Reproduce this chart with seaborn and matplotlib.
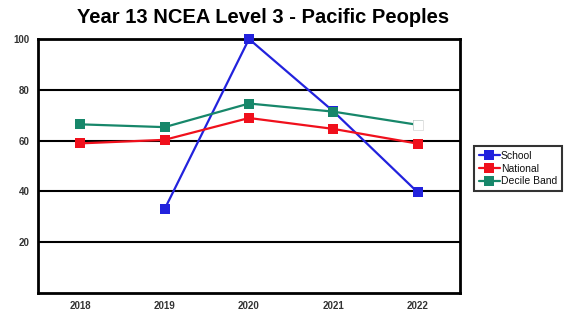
import numpy as np
import pandas as pd
import matplotlib
matplotlib.use("Agg")
import matplotlib.pyplot as plt
import seaborn as sns

years = ["2018", "2019", "2020", "2021", "2022"]
school = [np.nan, 33.0, 100.0, 71.5, 39.6]
national = [58.9, 60.3, 68.9, 64.6, 58.8]
decile_band = [66.4, 65.3, 74.6, 71.4, 66.2]

df = pd.DataFrame({"Year": years * 3,
                   "Value": school + national + decile_band,
                   "Group": ["School"] * 5 + ["National"] * 5 + ["Decile Band"] * 5})
df["x"] = df["Year"].map({y: i for i, y in enumerate(years)})

sns.set_style("white")
plt.rcParams['font.family'] = ['Liberation Sans', 'DejaVu Sans']

colors = {"School": "#2222dd", "National": "#f0101c", "Decile Band": "#17876a"}

fig = plt.figure(figsize=(5.79, 3.14), dpi=100)
ax = fig.add_axes([0.0656, 0.0669, 0.7289, 0.8089])

for g in ["School", "National", "Decile Band"]:
    sub = df[df["Group"] == g].dropna()
    sns.lineplot(data=sub, x="x", y="Value", ax=ax, color=colors[g], marker="s",
                 markersize=7, markeredgewidth=0, linewidth=1.6, label=g,
                 clip_on=False, zorder=4)

# hollow last decile marker
ax.plot([4], [decile_band[4]], marker="s", markersize=7, markerfacecolor="white",
        markeredgecolor="#dddddd", markeredgewidth=0.6, linestyle="none", zorder=5)

ax.set_xlim(-0.5, 4.5)
ax.set_ylim(0, 100)
ax.set_xticks(range(5))
ax.set_xticklabels(years)
ax.set_yticks([20, 40, 60, 80, 100])
ax.set_xlabel("")
ax.set_ylabel("")
ax.tick_params(axis="both", length=0, labelsize=7, labelcolor="#333333")
ax.tick_params(axis="x", pad=6)
ax.tick_params(axis="y", pad=6)
for t in ax.get_xticklabels() + ax.get_yticklabels():
    t.set_fontweight("bold")
ax.grid(axis="y", color="black", linewidth=1.5)
ax.set_axisbelow(True)
for s in ax.spines.values():
    s.set_visible(True)
    s.set_color("black")
    s.set_linewidth(2)
    s.set_zorder(3)

leg = ax.legend(loc="upper left", bbox_to_anchor=(1.02, 0.6), frameon=True,
                fontsize=7.5, handlelength=2.0, handletextpad=0.1,
                borderpad=0.5, labelspacing=0.25, fancybox=False)
leg.get_frame().set_edgecolor("black")
leg.get_frame().set_linewidth(1.5)
for t in leg.get_texts():
    t.set_color("#111111")

fig.text(0.455, 0.943, "Year 13 NCEA Level 3 - Pacific Peoples", ha="center",
         va="center", fontsize=14.5, fontweight="heavy", color="black")

fig.savefig("out.png", dpi=100)
